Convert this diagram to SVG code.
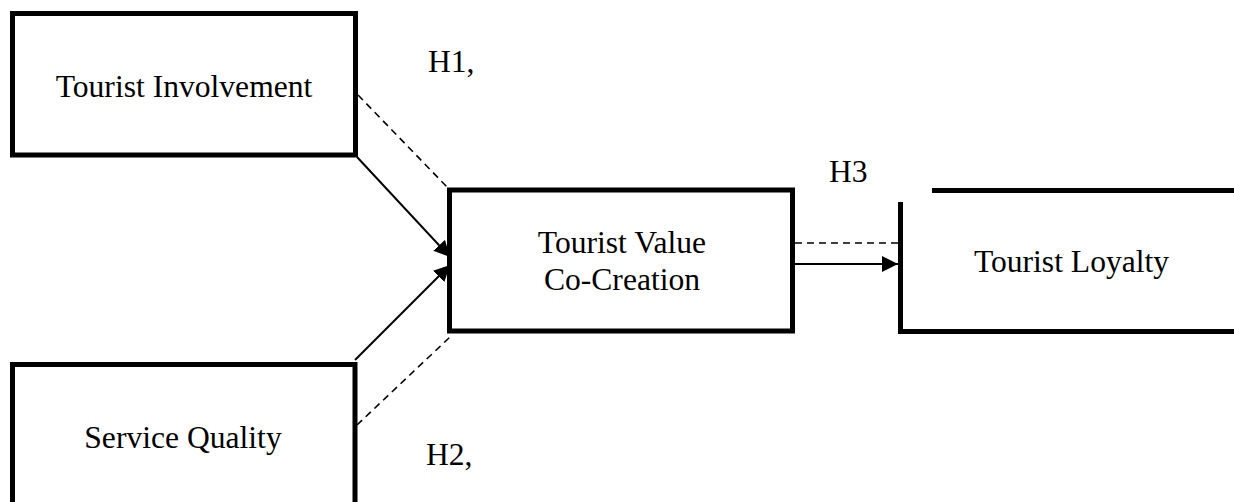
<svg xmlns="http://www.w3.org/2000/svg" width="1234" height="502" viewBox="0 0 1234 502">
<style>
.box{fill:none;stroke:#000;stroke-width:5}
.t{font-family:"Liberation Serif","Times New Roman",serif;font-size:31.6px;fill:#000}
.solid{stroke:#000;stroke-width:2;fill:none}
.dash{stroke:#000;stroke-width:1.6;fill:none;stroke-dasharray:7 5}
</style>
<defs>
<marker id="ah" markerUnits="userSpaceOnUse" markerWidth="16" markerHeight="16" viewBox="0 0 14 14" refX="14" refY="7" orient="auto">
<path d="M0,0 L14,7 L0,14 Z" fill="#000"/>
</marker>
</defs>
<rect width="1234" height="502" fill="#fff"/>
<g id="tourist-involvement">
<rect class="box" x="12.5" y="13.5" width="343" height="141.5"/>
<text class="t" x="184" y="97" text-anchor="middle">Tourist Involvement</text>
</g>
<g id="service-quality">
<rect class="box" x="12.5" y="364.5" width="342.5" height="160"/>
<text class="t" x="183" y="448" text-anchor="middle">Service Quality</text>
</g>
<g id="tourist-value-co-creation">
<rect class="box" x="449.5" y="190" width="343" height="141"/>
<text class="t" x="622" y="253" text-anchor="middle">Tourist Value</text>
<text class="t" x="622" y="290" text-anchor="middle">Co-Creation</text>
</g>
<g id="tourist-loyalty">
<path class="box" d="M900.5,202 V331.5 H1236"/>
<path class="box" d="M932,190.5 H1236"/>
<text class="t" x="1071.5" y="272" text-anchor="middle">Tourist Loyalty</text>
</g>
<g id="labels">
<text class="t" x="428" y="72">H1,</text>
<text class="t" x="829" y="182">H3</text>
<text class="t" x="426" y="465">H2,</text>
</g>
<g id="connectors">
<line class="dash" x1="358" y1="95" x2="447" y2="187"/>
<line class="dash" x1="357" y1="425" x2="450" y2="337"/>
<line class="dash" x1="795" y1="243" x2="898" y2="243"/>
<line class="solid" x1="357" y1="157" x2="450" y2="257" marker-end="url(#ah)"/>
<line class="solid" x1="355" y1="360" x2="450" y2="265" marker-end="url(#ah)"/>
<line class="solid" x1="795" y1="264" x2="898" y2="264" marker-end="url(#ah)"/>
</g>
</svg>
